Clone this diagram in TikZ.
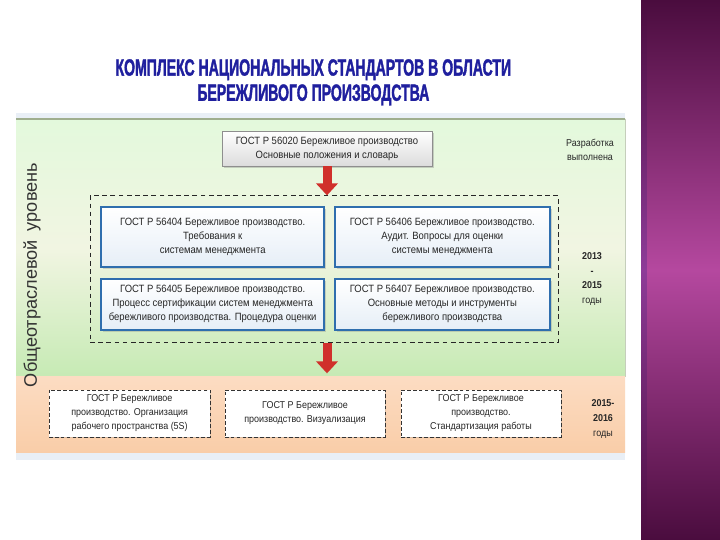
\documentclass[tikz,border=0pt]{standalone}
\usepackage{fontspec}
\setmainfont{Liberation Sans}
\newfontfamily\titlefont[FakeStretch=0.6,FakeBold=1.5]{Liberation Sans Bold}
\newfontfamily\boxfont[FakeStretch=0.9]{Liberation Sans}
\usetikzlibrary{arrows.meta,calc,shadows}
\definecolor{gostBlue}{HTML}{2F6EAE}
\definecolor{gostBlueLight}{HTML}{E6EEF7}
\definecolor{gostGreen}{HTML}{E3F9DC}
\definecolor{gostGreenDark}{HTML}{C6EAB4}
\definecolor{gostCream}{HTML}{F1F5E2}
\definecolor{gostLine}{HTML}{9FAE8E}
\definecolor{gostOrange}{HTML}{F9CDA8}
\definecolor{gostOrangeLight}{HTML}{FCDCC2}
\definecolor{gostStrip}{HTML}{E9EFF6}
\definecolor{gostRed}{HTML}{D0302B}
\definecolor{gostTitle}{HTML}{1F1F9E}
\definecolor{gostGray}{HTML}{8E8E8E}
\definecolor{gostText}{HTML}{262626}
\definecolor{gostPurple}{HTML}{B5489F}
\definecolor{gostPurpleDark}{HTML}{4A0C3E}
\definecolor{gostPurpleEdge}{HTML}{8E3C98}
\tikzset{
  down arrow/.style={-{Triangle[width=6.4mm,length=3.6mm]},
    line width=2.7mm, draw=gostRed},
  base box/.style={align=center, text=gostText, inner sep=2pt,
    font=\boxfont\fontsize{9}{12}\selectfont},
  head box/.style={base box, draw=gostGray, top color=white,
    bottom color=black!14, minimum width=6.3cm, minimum height=1.05cm,
    drop shadow={opacity=0.35, shadow xshift=1.5pt, shadow yshift=-1.5pt}},
  std box/.style={base box, draw=gostBlue, line width=2pt,
    top color=white, bottom color=gostBlueLight,
    drop shadow={opacity=0.3, shadow xshift=1.5pt, shadow yshift=-1.5pt}},
  plan box/.style={base box, draw=black!80, densely dashed, fill=white,
    minimum width=4.8cm, minimum height=1.41cm,
    font=\boxfont\fontsize{8.5}{12}\selectfont,
    drop shadow={opacity=0.25, shadow xshift=1pt, shadow yshift=-1pt}},
  group frame/.style={draw=black!85, thick, dash pattern=on 4pt off 3pt,
    minimum width=14.04cm, minimum height=4.41cm},
  year label/.style={align=center, text=gostText,
    font=\boxfont\fontsize{8.5}{12.5}\selectfont}
}
\begin{document}
\begin{tikzpicture}
  \useasboundingbox (0,0) rectangle (21.6,16.2);
  \fill[white] (0,0) rectangle (21.6,16.2);
  % purple side band
  \shade[top color=gostPurpleDark, bottom color=gostPurpleDark,
    middle color=gostPurple] (19.23,0) rectangle (21.6,16.2);
  \shade[top color=gostPurpleDark, bottom color=gostPurpleDark,
    middle color=gostPurpleEdge] (19.23,0) rectangle (19.4,16.2);
  % level panels
  \fill[gostStrip] (0.48,12.63) rectangle (18.75,12.81);
  \shade[top color=gostGreen, bottom color=gostGreenDark,
    middle color=gostCream] (0.48,4.89) rectangle (18.75,12.63);
  \draw[gostLine, line width=1pt] (0.48,12.63) -- (18.75,12.63);
  \draw[gostLine!60] (18.75,12.63) -- (18.75,4.89);
  \shade[top color=gostOrangeLight, bottom color=gostOrange]
    (0.48,2.61) rectangle (18.75,4.89);
  \fill[gostStrip] (0.48,2.4) rectangle (18.75,2.61);

  \node[text=gostTitle, align=center,
    font=\titlefont\fontsize{20}{21.5}\selectfont] (title) at (9.4,13.73)
    {КОМПЛЕКС НАЦИОНАЛЬНЫХ СТАНДАРТОВ В ОБЛАСТИ\\
     БЕРЕЖЛИВОГО ПРОИЗВОДСТВА};
  \node[rotate=90, text=black!80, font=\fontsize{15.5}{17}\selectfont]
    (level) at (0.96,7.95) {Общеотраслевой\enspace уровень};

  \node[head box] (top) at (9.81,11.74)
    {ГОСТ Р 56020 Бережливое производство\\
     Основные положения и словарь};
  \node[group frame] (frame) at (9.72,8.12) {};
  \node[std box, minimum width=6.69cm, minimum height=1.8cm] (g404)
    at (6.38,9.09)
    {ГОСТ Р 56404 Бережливое производство.\\Требования к\\
     системам менеджмента};
  \node[std box, minimum width=6.45cm, minimum height=1.8cm] (g406)
    at (13.27,9.09)
    {ГОСТ Р 56406 Бережливое производство.\\
     Аудит. Вопросы для оценки\\системы менеджмента};
  \node[std box, minimum width=6.69cm, minimum height=1.53cm] (g405)
    at (6.38,7.07)
    {ГОСТ Р 56405 Бережливое производство.\\
     Процесс сертификации систем менеджмента\\
     бережливого производства. Процедура оценки};
  \node[std box, minimum width=6.45cm, minimum height=1.53cm] (g407)
    at (13.27,7.07)
    {ГОСТ Р 56407 Бережливое производство.\\
     Основные методы и инструменты\\бережливого производства};

  \node[plan box, minimum width=4.83cm] (p5s) at (3.89,3.8)
    {ГОСТ Р Бережливое\\производство. Организация\\
     рабочего пространства (5S)};
  \node[plan box] (pvis) at (9.15,3.8)
    {ГОСТ Р Бережливое\\производство. Визуализация};
  \node[plan box] (pstd) at (14.43,3.8)
    {ГОСТ Р Бережливое\\производство.\\Стандартизация работы};

  \node[year label] (done) at (17.7,11.7) {Разработка\\выполнена};
  \node[year label] (y1315) at (17.76,7.83)
    {\textbf{2013}\\\textbf{-}\\\textbf{2015}\\годы};
  \node[year label] (y1516) at (18.09,3.63)
    {\textbf{2015-}\\\textbf{2016}\\годы};

  \coordinate (gap) at (9.81,5.0);
  \draw[down arrow] (top.south) -- (top.south |- frame.north);
  \draw[down arrow] (frame.south -| top.south) -- (gap);
\end{tikzpicture}
\end{document}
